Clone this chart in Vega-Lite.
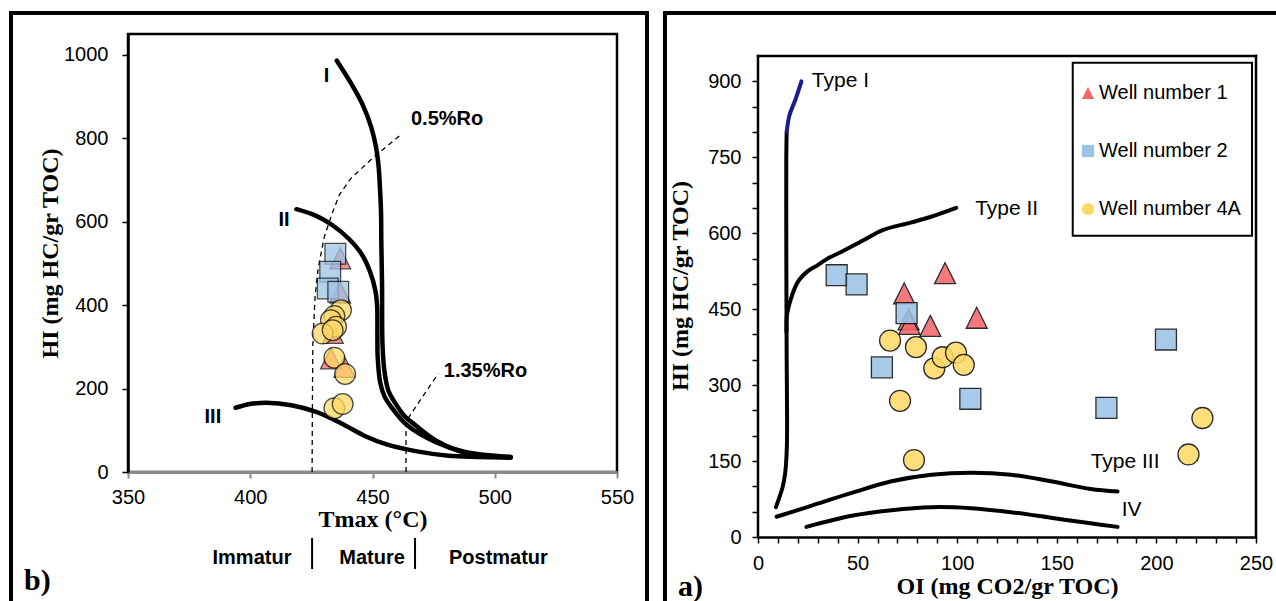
{
  "$schema": "https://vega.github.io/schema/vega-lite/v6.json",
  "background": "white",
  "padding": {"left": 5, "top": 7, "right": 0, "bottom": 0},
  "spacing": 7,
  "config": {
    "view": {"stroke": "#000", "strokeWidth": 2.5},
    "axis": {"grid": false, "labelFont": "Liberation Sans", "labelFontSize": 20, "labelColor": "#000", "titleFont": "Liberation Serif", "titleFontSize": 24, "titleFontWeight": "bold", "titleColor": "#000", "labelFlush": false, "labelOverlap": false, "domainColor": "#000", "tickColor": "#000", "domainWidth": 2.5, "tickWidth": 1.5, "tickSize": 6}
  },
  "resolve": {"scale": {"color": "independent", "shape": "independent"}, "legend": {"color": "independent", "shape": "independent"}},
  "hconcat": [
    {
      "width": 489,
      "height": 438,
      "encoding": {
        "x": {"field": "x", "type": "quantitative", "scale": {"domain": [350, 550], "nice": false, "zero": false},
          "axis": {"values": [350, 400, 450, 500, 550], "format": "d", "title": "Tmax (°C)", "domainColor": "#8c8c8c", "domainWidth": 3, "tickColor": "#8c8c8c", "tickWidth": 2, "labelPadding": 9, "titlePadding": 0}},
        "y": {"field": "y", "type": "quantitative", "scale": {"domain": [0, 1050], "nice": false, "zero": false},
          "axis": {"values": [0, 200, 400, 600, 800, 1000], "format": "d", "title": "HI (mg HC/gr TOC)", "labelPadding": 14, "titlePadding": 1}}
      },
      "layer": [
        {
          "data": {"values": [
            {"c": "0.5%Ro", "i": 0, "x": 425.3, "y": 0},
            {"c": "0.5%Ro", "i": 1, "x": 425.4, "y": 150},
            {"c": "0.5%Ro", "i": 2, "x": 425.6, "y": 305},
            {"c": "0.5%Ro", "i": 3, "x": 426.5, "y": 420},
            {"c": "0.5%Ro", "i": 4, "x": 427.8, "y": 489},
            {"c": "0.5%Ro", "i": 5, "x": 430.3, "y": 564},
            {"c": "0.5%Ro", "i": 6, "x": 433.5, "y": 620},
            {"c": "0.5%Ro", "i": 7, "x": 436.5, "y": 665},
            {"c": "0.5%Ro", "i": 8, "x": 441.2, "y": 704},
            {"c": "0.5%Ro", "i": 9, "x": 450.7, "y": 756},
            {"c": "0.5%Ro", "i": 10, "x": 461.7, "y": 809},
            {"c": "1.35%Ro", "i": 0, "x": 463.7, "y": 0},
            {"c": "1.35%Ro", "i": 1, "x": 463.7, "y": 60},
            {"c": "1.35%Ro", "i": 2, "x": 463.7, "y": 121},
            {"c": "1.35%Ro", "i": 3, "x": 470.3, "y": 179},
            {"c": "1.35%Ro", "i": 4, "x": 476.9, "y": 236}
          ]},
          "mark": {"type": "line", "stroke": "#000", "strokeWidth": 1.3, "strokeDash": [5, 4], "interpolate": "linear"},
          "encoding": {"detail": {"field": "c"}, "order": {"field": "i"}}
        },
        {
          "data": {"values": [
            {"c": "I", "i": 0, "x": 435.4, "y": 986},
            {"c": "I", "i": 1, "x": 441.2, "y": 932},
            {"c": "I", "i": 2, "x": 446.0, "y": 880},
            {"c": "I", "i": 3, "x": 449.4, "y": 828},
            {"c": "I", "i": 4, "x": 451.4, "y": 780},
            {"c": "I", "i": 5, "x": 452.5, "y": 732},
            {"c": "I", "i": 6, "x": 453.1, "y": 676},
            {"c": "I", "i": 7, "x": 453.5, "y": 621},
            {"c": "I", "i": 8, "x": 453.6, "y": 556},
            {"c": "I", "i": 9, "x": 453.9, "y": 450},
            {"c": "I", "i": 10, "x": 454.1, "y": 305},
            {"c": "I", "i": 11, "x": 454.9, "y": 241},
            {"c": "I", "i": 12, "x": 456.5, "y": 195},
            {"c": "I", "i": 13, "x": 459.1, "y": 167},
            {"c": "I", "i": 14, "x": 463.0, "y": 135},
            {"c": "I", "i": 15, "x": 467.6, "y": 112},
            {"c": "I", "i": 16, "x": 476.1, "y": 75},
            {"c": "I", "i": 17, "x": 484.5, "y": 52},
            {"c": "I", "i": 18, "x": 493.0, "y": 40},
            {"c": "I", "i": 19, "x": 506.5, "y": 36},
            {"c": "II", "i": 0, "x": 418.9, "y": 630},
            {"c": "II", "i": 1, "x": 427.0, "y": 614},
            {"c": "II", "i": 2, "x": 433.8, "y": 591},
            {"c": "II", "i": 3, "x": 440.5, "y": 558},
            {"c": "II", "i": 4, "x": 445.6, "y": 522},
            {"c": "II", "i": 5, "x": 449.0, "y": 480},
            {"c": "II", "i": 6, "x": 451.2, "y": 434},
            {"c": "II", "i": 7, "x": 451.9, "y": 397},
            {"c": "II", "i": 8, "x": 452.0, "y": 330},
            {"c": "II", "i": 9, "x": 452.1, "y": 278},
            {"c": "II", "i": 10, "x": 453.2, "y": 213},
            {"c": "II", "i": 11, "x": 455.0, "y": 180},
            {"c": "II", "i": 12, "x": 457.4, "y": 158},
            {"c": "II", "i": 13, "x": 464.2, "y": 112},
            {"c": "II", "i": 14, "x": 476.1, "y": 71},
            {"c": "II", "i": 15, "x": 487.9, "y": 48},
            {"c": "II", "i": 16, "x": 506.5, "y": 36},
            {"c": "III", "i": 0, "x": 394.0, "y": 154},
            {"c": "III", "i": 1, "x": 399.9, "y": 163},
            {"c": "III", "i": 2, "x": 406.7, "y": 166},
            {"c": "III", "i": 3, "x": 416.8, "y": 160},
            {"c": "III", "i": 4, "x": 427.0, "y": 144},
            {"c": "III", "i": 5, "x": 437.1, "y": 117},
            {"c": "III", "i": 6, "x": 447.3, "y": 85},
            {"c": "III", "i": 7, "x": 455.8, "y": 66},
            {"c": "III", "i": 8, "x": 467.6, "y": 50},
            {"c": "III", "i": 9, "x": 481.1, "y": 39},
            {"c": "III", "i": 10, "x": 493.0, "y": 36},
            {"c": "III", "i": 11, "x": 506.5, "y": 34}
          ]},
          "mark": {"type": "line", "stroke": "#000", "strokeWidth": 4.5, "interpolate": "catmull-rom", "strokeCap": "round"},
          "encoding": {"detail": {"field": "c"}, "order": {"field": "i"}}
        },
        {
          "data": {"values": [
            {"well": "Well number 1", "x": 436.8, "y": 512},
            {"well": "Well number 1", "x": 436.8, "y": 430},
            {"well": "Well number 1", "x": 433.8, "y": 333},
            {"well": "Well number 1", "x": 433.0, "y": 272},
            {"well": "Well number 1", "x": 438.5, "y": 252},
            {"well": "Well number 2", "x": 434.8, "y": 523},
            {"well": "Well number 2", "x": 432.7, "y": 480},
            {"well": "Well number 2", "x": 431.7, "y": 440},
            {"well": "Well number 2", "x": 436.0, "y": 432},
            {"well": "Well number 4A", "x": 437.1, "y": 388},
            {"well": "Well number 4A", "x": 434.4, "y": 374},
            {"well": "Well number 4A", "x": 433.0, "y": 364},
            {"well": "Well number 4A", "x": 435.1, "y": 348},
            {"well": "Well number 4A", "x": 429.6, "y": 332},
            {"well": "Well number 4A", "x": 433.7, "y": 340},
            {"well": "Well number 4A", "x": 434.4, "y": 274},
            {"well": "Well number 4A", "x": 438.8, "y": 235},
            {"well": "Well number 4A", "x": 434.4, "y": 153},
            {"well": "Well number 4A", "x": 437.8, "y": 163}
          ]},
          "mark": {"type": "point", "filled": true, "size": 430, "stroke": "#111", "strokeWidth": 1.3, "opacity": 0.75},
          "encoding": {
            "shape": {"field": "well", "type": "nominal", "scale": {"domain": ["Well number 1", "Well number 2", "Well number 4A"], "range": ["M0,-1L1,1L-1,1Z", "square", "M1,0A1,1,0,1,1,-1,0A1,1,0,1,1,1,0Z"]}, "legend": null},
            "color": {"field": "well", "type": "nominal", "scale": {"domain": ["Well number 1", "Well number 2", "Well number 4A"], "range": ["#F4676A", "#9DC3E6", "#FFD966"]}, "legend": null}
          }
        },
        {
          "data": {"values": [
            {"t": "I", "x": 431.2, "y": 949},
            {"t": "II", "x": 413.8, "y": 604},
            {"t": "III", "x": 384.7, "y": 131},
            {"t": "0.5%Ro", "x": 480.5, "y": 846},
            {"t": "1.35%Ro", "x": 496.2, "y": 243},
            {"t": "Immatur", "x": 400.7, "y": -206},
            {"t": "Mature", "x": 449.8, "y": -206},
            {"t": "Postmatur", "x": 501.5, "y": -206}
          ]},
          "mark": {"type": "text", "font": "Liberation Sans", "fontSize": 20, "fontWeight": "bold", "color": "#000", "align": "center", "baseline": "middle"},
          "encoding": {"text": {"field": "t"}}
        },
        {
          "data": {"values": [{"t": "b)", "x": 307.5, "y": -262}]},
          "mark": {"type": "text", "font": "Liberation Serif", "fontSize": 30, "fontWeight": "bold", "color": "#000", "align": "left", "baseline": "middle"},
          "encoding": {"text": {"field": "t"}}
        },
        {
          "data": {"values": [
            {"x": 425.3, "x2": 425.3, "y": -158, "y2": -232.6},
            {"x": 467.4, "x2": 467.4, "y": -158, "y2": -232.6}
          ]},
          "mark": {"type": "rule", "stroke": "#000", "strokeWidth": 2},
          "encoding": {"x2": {"field": "x2"}, "y2": {"field": "y2"}}
        },
        {
          "data": {"values": [
            {"x": 302.15, "x2": 302.15, "y": 1105.1, "y2": -320},
            {"x": 562.27, "x2": 562.27, "y": 1105.1, "y2": -320},
            {"x": 301.33, "x2": 563.09, "y": 1100.3, "y2": 1100.3}
          ]},
          "mark": {"type": "rule", "stroke": "#000", "strokeWidth": 4},
          "encoding": {"x2": {"field": "x2"}, "y2": {"field": "y2"}}
        }
      ]
    },
    {
      "width": 498,
      "height": 503,
      "view": {"stroke": null},
      "encoding": {
        "x": {"field": "x", "type": "quantitative", "scale": {"domain": [0, 250], "nice": false, "zero": false},
          "axis": {"values": [0, 10, 20, 30, 40, 50, 60, 70, 80, 90, 100, 110, 120, 130, 140, 150, 160, 170, 180, 190, 200, 210, 220, 230, 240, 250], "labelExpr": "datum.value % 50 === 0 ? datum.label : ''", "format": "d", "title": "OI (mg CO2/gr TOC)", "labelPadding": 10, "titlePadding": 1}},
        "y": {"field": "y", "type": "quantitative", "scale": {"domain": [0, 993.4], "nice": false, "zero": false},
          "axis": {"values": [0, 50, 100, 150, 200, 250, 300, 350, 400, 450, 500, 550, 600, 650, 700, 750, 800, 850, 900], "labelExpr": "datum.value % 150 === 0 ? datum.label : ''", "format": "d", "title": "HI (mg HC/gr TOC)", "domain": false, "labelPadding": 11, "titlePadding": 15}}
      },
      "layer": [
        {
          "data": {"values": [
            {"c": "I", "i": 0, "x": 9.0, "y": 59},
            {"c": "I", "i": 1, "x": 10.6, "y": 77},
            {"c": "I", "i": 2, "x": 12.4, "y": 99},
            {"c": "I", "i": 3, "x": 13.6, "y": 125},
            {"c": "I", "i": 4, "x": 14.1, "y": 146},
            {"c": "I", "i": 5, "x": 14.5, "y": 180},
            {"c": "I", "i": 6, "x": 14.6, "y": 231},
            {"c": "I", "i": 7, "x": 14.4, "y": 350},
            {"c": "I", "i": 8, "x": 14.3, "y": 450},
            {"c": "I", "i": 9, "x": 14.2, "y": 600},
            {"c": "I", "i": 10, "x": 14.2, "y": 750},
            {"c": "I", "i": 11, "x": 14.4, "y": 800},
            {"c": "II", "i": 0, "x": 14.3, "y": 405},
            {"c": "II", "i": 1, "x": 14.6, "y": 440},
            {"c": "II", "i": 2, "x": 16.5, "y": 470},
            {"c": "II", "i": 3, "x": 18.5, "y": 492},
            {"c": "II", "i": 4, "x": 20.7, "y": 508},
            {"c": "II", "i": 5, "x": 25.0, "y": 525},
            {"c": "II", "i": 6, "x": 30.0, "y": 537},
            {"c": "II", "i": 7, "x": 35.0, "y": 550},
            {"c": "II", "i": 8, "x": 41.7, "y": 563},
            {"c": "II", "i": 9, "x": 53.4, "y": 587},
            {"c": "II", "i": 10, "x": 62.6, "y": 606},
            {"c": "II", "i": 11, "x": 76.6, "y": 621},
            {"c": "II", "i": 12, "x": 86.5, "y": 632},
            {"c": "II", "i": 13, "x": 99.5, "y": 650},
            {"c": "III", "i": 0, "x": 9.3, "y": 40},
            {"c": "III", "i": 1, "x": 27.0, "y": 62},
            {"c": "III", "i": 2, "x": 47.0, "y": 87},
            {"c": "III", "i": 3, "x": 67.0, "y": 110},
            {"c": "III", "i": 4, "x": 87.0, "y": 123},
            {"c": "III", "i": 5, "x": 107.0, "y": 127},
            {"c": "III", "i": 6, "x": 127.0, "y": 123},
            {"c": "III", "i": 7, "x": 147.0, "y": 110},
            {"c": "III", "i": 8, "x": 167.0, "y": 95},
            {"c": "III", "i": 9, "x": 180.5, "y": 90},
            {"c": "IV", "i": 0, "x": 24.3, "y": 20},
            {"c": "IV", "i": 1, "x": 47.0, "y": 42},
            {"c": "IV", "i": 2, "x": 67.0, "y": 53},
            {"c": "IV", "i": 3, "x": 87.0, "y": 59},
            {"c": "IV", "i": 4, "x": 107.0, "y": 57},
            {"c": "IV", "i": 5, "x": 127.0, "y": 49},
            {"c": "IV", "i": 6, "x": 147.0, "y": 38},
            {"c": "IV", "i": 7, "x": 167.0, "y": 27},
            {"c": "IV", "i": 8, "x": 180.5, "y": 20}
          ]},
          "mark": {"type": "line", "stroke": "#000", "strokeWidth": 4, "interpolate": "catmull-rom", "strokeCap": "round"},
          "encoding": {"detail": {"field": "c"}, "order": {"field": "i"}}
        },
        {
          "data": {"values": [
            {"c": "I top", "i": 0, "x": 14.4, "y": 800},
            {"c": "I top", "i": 1, "x": 15.8, "y": 833},
            {"c": "I top", "i": 2, "x": 18.8, "y": 864},
            {"c": "I top", "i": 3, "x": 21.8, "y": 900}
          ]},
          "mark": {"type": "line", "stroke": "#1c1c8c", "strokeWidth": 4, "interpolate": "catmull-rom", "strokeCap": "round"},
          "encoding": {"detail": {"field": "c"}, "order": {"field": "i"}}
        },
        {
          "data": {"values": [
            {"t": "Type I", "x": 27.0, "y": 900},
            {"t": "Type II", "x": 109.0, "y": 648},
            {"t": "Type III", "x": 167.0, "y": 149},
            {"t": "IV", "x": 182.6, "y": 53}
          ]},
          "mark": {"type": "text", "font": "Liberation Sans", "fontSize": 21, "color": "#000", "align": "left", "baseline": "middle"},
          "encoding": {"text": {"field": "t"}}
        },
        {
          "data": {"values": [{"x1": 158.0, "x2": 248.0, "y1": 936.8, "y2": 595.1}]},
          "mark": {"type": "rect", "fill": "white", "stroke": "#000", "strokeWidth": 2},
          "encoding": {"x": {"field": "x1", "type": "quantitative"}, "x2": {"field": "x2"}, "y": {"field": "y1", "type": "quantitative"}, "y2": {"field": "y2"}}
        },
        {
          "data": {"values": [
            {"x": 0, "x2": 0, "y": 0, "y2": 950},
            {"x": 250, "x2": 250, "y": 0, "y2": 950},
            {"x": 0, "x2": 250, "y": 950, "y2": 950}
          ]},
          "mark": {"type": "rule", "stroke": "#000", "strokeWidth": 2.5, "strokeCap": "square"},
          "encoding": {"x2": {"field": "x2"}, "y2": {"field": "y2"}}
        },
        {
          "data": {"values": [
            {"well": "Well number 1", "x": 73.4, "y": 481},
            {"well": "Well number 1", "x": 93.9, "y": 521},
            {"well": "Well number 1", "x": 75.6, "y": 430},
            {"well": "Well number 1", "x": 76.0, "y": 421},
            {"well": "Well number 1", "x": 86.5, "y": 417},
            {"well": "Well number 1", "x": 109.8, "y": 433},
            {"well": "Well number 2", "x": 39.5, "y": 517},
            {"well": "Well number 2", "x": 49.5, "y": 499},
            {"well": "Well number 2", "x": 74.6, "y": 442},
            {"well": "Well number 2", "x": 62.2, "y": 335},
            {"well": "Well number 2", "x": 106.6, "y": 273},
            {"well": "Well number 2", "x": 204.8, "y": 390},
            {"well": "Well number 2", "x": 174.9, "y": 255},
            {"well": "Well number 4A", "x": 66.3, "y": 388},
            {"well": "Well number 4A", "x": 79.3, "y": 375},
            {"well": "Well number 4A", "x": 88.5, "y": 333},
            {"well": "Well number 4A", "x": 92.7, "y": 355},
            {"well": "Well number 4A", "x": 99.4, "y": 364},
            {"well": "Well number 4A", "x": 103.3, "y": 340},
            {"well": "Well number 4A", "x": 71.3, "y": 269},
            {"well": "Well number 4A", "x": 78.3, "y": 152},
            {"well": "Well number 4A", "x": 216.1, "y": 163},
            {"well": "Well number 4A", "x": 223.1, "y": 235}
          ]},
          "mark": {"type": "point", "filled": true, "size": 440, "stroke": "#111", "strokeWidth": 1.3, "opacity": 0.88},
          "encoding": {
            "shape": {"field": "well", "type": "nominal", "scale": {"domain": ["Well number 1", "Well number 2", "Well number 4A"], "range": ["M0,-1L1,1L-1,1Z", "square", "M1,0A1,1,0,1,1,-1,0A1,1,0,1,1,1,0Z"]},
              "legend": {"orient": "none", "legendX": 320, "legendY": 49, "title": null, "padding": 0, "symbolSize": 150, "symbolStrokeColor": "#000", "symbolStrokeWidth": 1.2, "symbolOpacity": 1, "labelFont": "Liberation Sans", "labelFontSize": 20, "labelColor": "#000", "rowPadding": 38, "labelOffset": 1}},
            "color": {"field": "well", "type": "nominal", "scale": {"domain": ["Well number 1", "Well number 2", "Well number 4A"], "range": ["#F4676A", "#9DC3E6", "#FFD966"]},
              "legend": {"orient": "none", "legendX": 320, "legendY": 49, "title": null, "padding": 0, "symbolSize": 150, "symbolStrokeColor": "#000", "symbolStrokeWidth": 1.2, "symbolOpacity": 1, "labelFont": "Liberation Sans", "labelFontSize": 20, "labelColor": "#000", "rowPadding": 38, "labelOffset": 1}}
          }
        },
        {
          "data": {"values": [{"t": "a)", "x": -40.2, "y": -98.7}]},
          "mark": {"type": "text", "font": "Liberation Serif", "fontSize": 30, "fontWeight": "bold", "color": "#000", "align": "left", "baseline": "middle"},
          "encoding": {"text": {"field": "t"}}
        },
        {
          "data": {"values": [
            {"x": -46.69, "x2": -46.69, "y": 1038.9, "y2": -140},
            {"x": -47.7, "x2": 262, "y": 1034.9, "y2": 1034.9}
          ]},
          "mark": {"type": "rule", "stroke": "#000", "strokeWidth": 4},
          "encoding": {"x2": {"field": "x2"}, "y2": {"field": "y2"}}
        }
      ]
    }
  ]
}
